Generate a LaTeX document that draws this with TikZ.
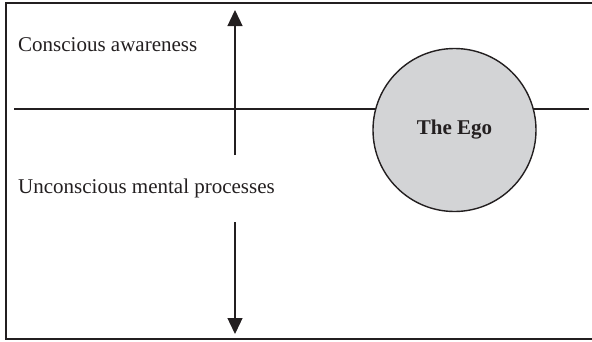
\documentclass[tikz,border=0pt]{standalone}
\usepackage{fontspec}
\setmainfont{Liberation Serif}
\usetikzlibrary{arrows.meta}
\definecolor{egogray}{RGB}{211,212,214}
\definecolor{inkblack}{RGB}{35,31,32}

\tikzset{
    label/.style={anchor=base west, inner sep=0pt, font=\fontsize{21}{25}\selectfont, text=inkblack},
    egocircle/.style={circle, draw=inkblack, line width=1.4pt, fill=egogray, minimum size=163pt, inner sep=0pt, font=\fontsize{21}{25}\selectfont\bfseries, text=inkblack},
    divider/.style={draw=inkblack, line width=1.3pt},
    arrowline/.style={draw=inkblack, line width=1.3pt, -{Triangle[length=16pt,width=15pt]}}
}

\begin{document}
\begin{tikzpicture}[x=1pt, y=-1pt]
    \useasboundingbox (0,0) rectangle (592,341);

    % frame
    \draw[inkblack, line width=2pt] (592,3) -- (6,3) -- (6,339) -- (592,339);

    % ends of the lines
    \coordinate (left) at (14,109);
    \coordinate (right) at (589,109);
    \coordinate (upstart) at (235,155);
    \coordinate (uptip) at (235,10);
    \coordinate (downstart) at (235,222);
    \coordinate (downtip) at (235,334);

    \path[divider] (left) -- (right);
    \path[arrowline] (upstart) -- (uptip);
    \path[arrowline] (downstart) -- (downtip);

    \node[label] (conscious) at (18,51) {Conscious awareness};
    \node[label] (unconscious) at (18,193) {Unconscious mental processes};

    \node[egocircle] (ego) at (454.5,130) {The Ego};
\end{tikzpicture}
\end{document}
